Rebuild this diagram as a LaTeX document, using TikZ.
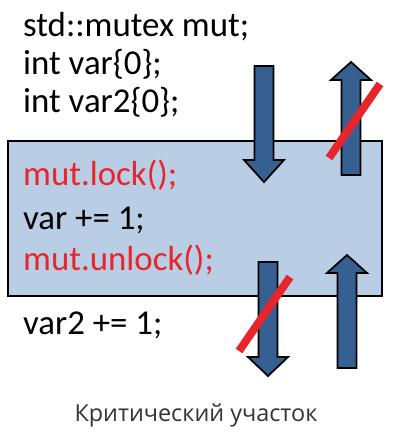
\documentclass[tikz,border=0pt]{standalone}
\usepackage{fontspec}
\setmainfont{Carlito}
\newfontfamily\captionfont{Open Sans}
\definecolor{boxblue}{HTML}{B9CDE5}
\definecolor{arrowblue}{HTML}{376092}
\definecolor{lockred}{HTML}{E8252B}
\tikzset{
    code/.style={anchor=base west, inner sep=0pt, font=\fontsize{35}{40}\selectfont},
    lockcode/.style={code, text=lockred},
    blockarrow/.style={draw=black, line width=1.8pt, fill=arrowblue, line join=miter},
    cross/.style={draw=lockred, line width=8pt}
}
\begin{document}
\begin{tikzpicture}[x=1bp, y=-1bp]
    \useasboundingbox (0,0) rectangle (403,442);

    % Critical section box
    \draw[fill=boxblue, line width=1.8pt] (8,141) rectangle (382,296);

    % Code lines
    \node[code] (decl) at (23,37) {std::mutex mut;};
    \node[code] (var) at (23,75) {int var\{0\};};
    \node[code] (vartwo) at (23,113) {int var2\{0\};};
    \node[lockcode] (lock) at (23,186) {mut.lock();};
    \node[code] (inc) at (23,229) {var += 1;};
    \node[lockcode] (unlock) at (23,270) {mut.unlock();};
    \node[code] (inctwo) at (23,334) {var2 += 1;};

    % Block arrows: centre x / tail y / head base y / tip y
    \foreach \x/\tail/\base/\tip in {264/66/160/182, 351/175/80/62, 268/262/357/376, 347/368/273/255} {
        \draw[blockarrow] (\x-9.5,\tail) -- (\x-9.5,\base) -- (\x-20,\base) -- (\x,\tip)
            -- (\x+20,\base) -- (\x+9.5,\base) -- (\x+9.5,\tail) -- cycle;
    }

    % Forbidden moves
    \draw[cross] (329,158) -- (380,84);
    \draw[cross] (239,351) -- (290,277);

    % Caption
    \node[anchor=base, inner sep=0pt, text=black!80, font=\captionfont\fontsize{23.5}{28}\selectfont] (caption) at (196,421) {Критический участок};
\end{tikzpicture}
\end{document}
